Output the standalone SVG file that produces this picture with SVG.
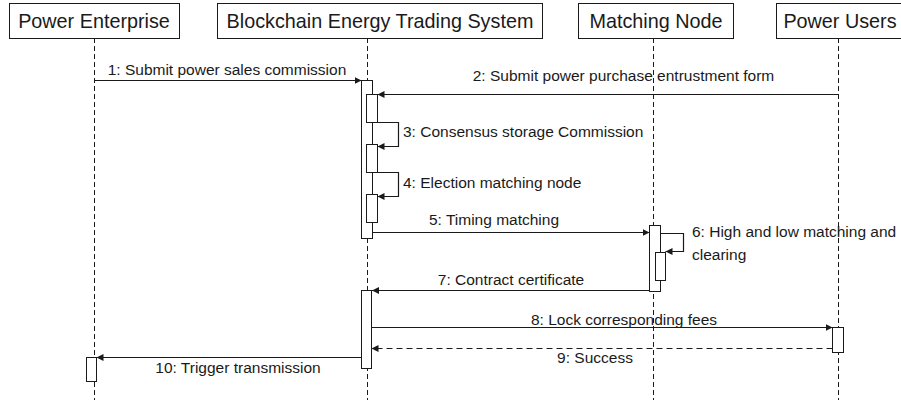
<svg xmlns="http://www.w3.org/2000/svg" width="901" height="400" viewBox="0 0 901 400">
<defs>
<marker id="arr" markerWidth="8" markerHeight="8" refX="7" refY="4" orient="auto" markerUnits="userSpaceOnUse">
<path d="M0,0.5 L7,4 L0,7.5 Z" fill="#1a1a1a"/>
</marker>
<style>
.box{fill:#fff;stroke:#1a1a1a;stroke-width:1}
.head{font-family:"Liberation Sans",Arial,sans-serif;font-size:19.8px;fill:#1a1a1a;text-anchor:middle}
.life{stroke:#1a1a1a;stroke-width:1;stroke-dasharray:5,3;fill:none}
.bar{fill:#fff;stroke:#1a1a1a;stroke-width:1}
.msg{stroke:#1a1a1a;stroke-width:1.2;fill:none;marker-end:url(#arr)}
.ret{stroke:#1a1a1a;stroke-width:1.2;fill:none;stroke-dasharray:6,4;marker-end:url(#arr)}
.lbl{font-family:"Liberation Sans",Arial,sans-serif;font-size:15.5px;fill:#1a1a1a}
.c{text-anchor:middle}
</style>
</defs>
<rect width="901" height="400" fill="#fff"/>
<g id="lifelines">
<line class="life" x1="94.5" y1="38" x2="94.5" y2="400"/>
<line class="life" x1="367.5" y1="38" x2="367.5" y2="400"/>
<line class="life" x1="653.5" y1="38" x2="653.5" y2="400"/>
<line class="life" x1="838.5" y1="38" x2="838.5" y2="400"/>
</g>
<g id="power-enterprise">
<rect class="box" x="9.5" y="3.5" width="170" height="35"/>
<text class="head" x="94" y="28">Power Enterprise</text>
<rect class="bar" x="86.5" y="357.5" width="10" height="24"/>
</g>
<g id="blockchain-system">
<rect class="box" x="217.5" y="3.5" width="325" height="35"/>
<text class="head" x="380" y="28">Blockchain Energy Trading System</text>
<rect class="bar" x="361.5" y="80.5" width="11" height="158"/>
<rect class="bar" x="366.5" y="94.5" width="11" height="28"/>
<rect class="bar" x="366.5" y="144.5" width="11" height="28"/>
<rect class="bar" x="366.5" y="194.5" width="11" height="28"/>
<rect class="bar" x="361.5" y="290.5" width="10" height="78"/>
</g>
<g id="matching-node">
<rect class="box" x="578.5" y="3.5" width="155" height="35"/>
<text class="head" x="656" y="28">Matching Node</text>
<rect class="bar" x="649.5" y="225.5" width="11" height="66"/>
<rect class="bar" x="655.5" y="252.5" width="10" height="28"/>
</g>
<g id="power-users">
<rect class="box" x="776.5" y="3.5" width="126" height="35"/>
<text class="head" x="840" y="28">Power Users</text>
<rect class="bar" x="832.5" y="327.5" width="11" height="25"/>
</g>
<g id="connectors">
<path class="msg" d="M94.5,80.5 H361.5"/>
<path class="msg" d="M838.5,94.5 H377.5"/>
<path class="msg" d="M377.5,122.5 H398.5 V146.5 H377.5"/>
<path class="msg" d="M377.5,172.5 H398.5 V196.5 H377.5"/>
<path class="msg" d="M372.5,232.5 H649.5"/>
<path class="msg" d="M660.5,233.5 H683.5 V251.5 H665.5"/>
<path class="msg" d="M649.5,290.5 H372"/>
<path class="msg" d="M371.5,327.5 H832.5"/>
<path class="ret" d="M832.5,348.5 H371.5"/>
<path class="msg" d="M361.5,357.5 H96.5"/>
</g>
<g id="labels">
<text class="lbl c" x="227" y="75">1: Submit power sales commission</text>
<text class="lbl c" x="623.5" y="81">2: Submit power purchase entrustment form</text>
<text class="lbl" x="403" y="137">3: Consensus storage Commission</text>
<text class="lbl" x="403" y="188">4: Election matching node</text>
<text class="lbl c" x="494" y="225">5: Timing matching</text>
<text class="lbl" x="692" y="237">6: High and low matching and</text>
<text class="lbl" x="692" y="260">clearing</text>
<text class="lbl c" x="511" y="285">7: Contract certificate</text>
<text class="lbl c" x="624" y="325">8: Lock corresponding fees</text>
<text class="lbl c" x="595" y="363">9: Success</text>
<text class="lbl c" x="238" y="373">10: Trigger transmission</text>
</g>
</svg>
